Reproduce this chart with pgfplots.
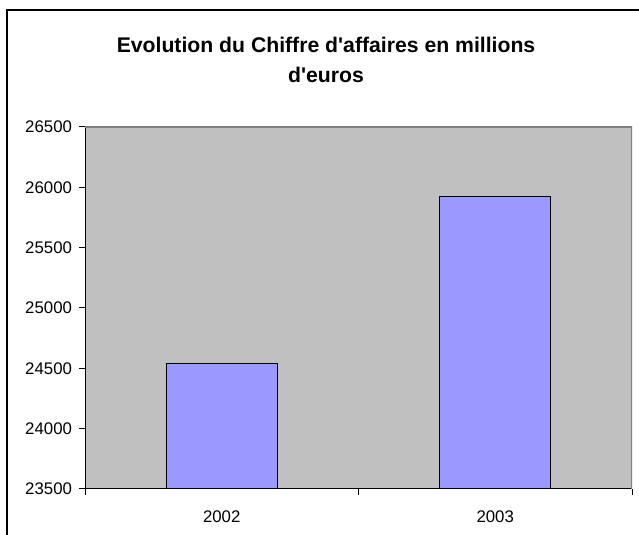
\documentclass[border=0pt]{standalone}
\usepackage{pgfplots}
\pgfplotsset{compat=1.18}
\usepackage{fontspec}
\setmainfont{Liberation Sans}
\definecolor{plotgray}{HTML}{C0C0C0}
\definecolor{barblue}{HTML}{9999FF}
\definecolor{framegray}{HTML}{808080}
\begin{document}
\begin{tikzpicture}
\useasboundingbox (0,0) rectangle (479.25pt,401.25pt);
\draw[line width=1.5pt] (5.25pt,-5pt) -- (5.25pt,393.75pt) -- (490pt,393.75pt);
\node[font=\bfseries\fontsize{15.9}{22.5}\selectfont, align=center]
  at (244.5pt,356.25pt) {Evolution du Chiffre d\textquotesingle affaires en millions\\d\textquotesingle euros};
\begin{axis}[
    at={(63.75pt,34.5pt)}, anchor=south west,
    width=410.25pt, height=271.5pt, scale only axis,
    xmin=-0.5, xmax=1.5,
    ymin=23500, ymax=26500,
    ytick={23500,24000,...,26500},
    xtick={-0.5,0.5,1.5}, xticklabels={},
    extra x ticks={0,1}, extra x tick labels={2002,2003},
    extra x tick style={major tick length=0pt,
        tick label style={yshift=-13pt}},
    scaled y ticks=false,
    yticklabel style={/pgf/number format/1000 sep={}, xshift=-1.75pt},
    tick label style={font=\fontsize{12.6}{14}\selectfont},
    /pgf/number format/assume math mode=true,
    tick align=outside, major tick length=4.5pt,
    tick style={black, line width=0.75pt},
    axis x line*=bottom, axis y line*=left,
    axis line style={-, black, line width=0.75pt},
    axis background/.style={fill=plotgray},
]
\draw[framegray, line width=1pt] (rel axis cs:0,1) -- (rel axis cs:1,1) -- (rel axis cs:1,0);
\addplot[ybar, bar width=0.405, bar shift=0pt, fill=barblue, draw=black, line width=0.75pt]
    coordinates {(0,24536) (1,25920)};
\end{axis}
\end{tikzpicture}
\end{document}
